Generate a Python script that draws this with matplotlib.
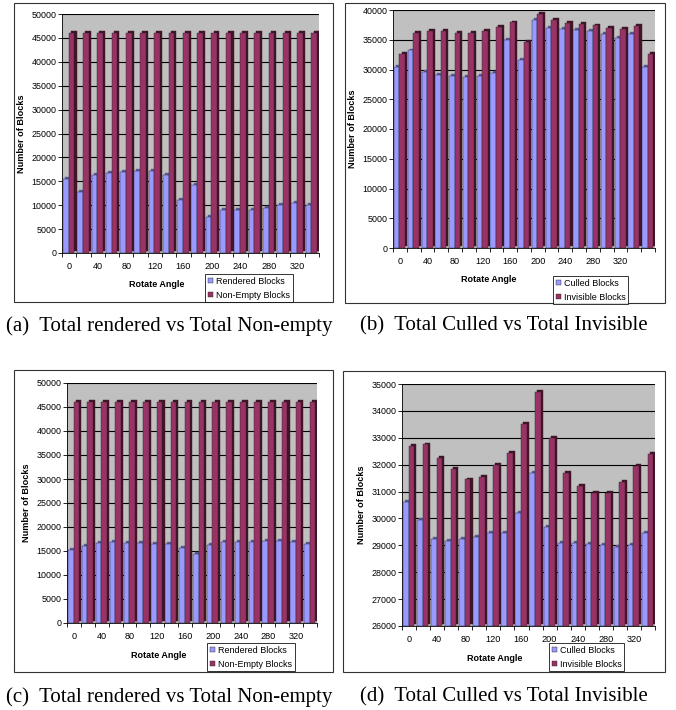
import matplotlib
matplotlib.use("Agg")
import matplotlib.pyplot as plt
import matplotlib.transforms as mtransforms
from matplotlib.patches import Rectangle
import numpy as np

W, H = 676, 710

# data
angles_18 = list(range(0, 360, 20))
angles_19 = list(range(0, 380, 20))

rendered_a = [15500, 12800, 16300, 16700, 17000, 17200, 17100, 16400, 11000,
              14300, 7600, 9000, 9100, 9100, 9400, 10100, 10500, 10100]
nonempty_a = [46000] * 18

culled_b = [30500, 33200, 29600, 29100, 28900, 28700, 28900, 29400, 35000, 31600,
            38300, 37000, 36800, 36700, 36500, 35900, 35300, 35900, 30400]
invisible_b = [32600, 36200, 36500, 36500, 36200, 36100, 36500, 37200, 37900, 34600,
               39300, 38300, 37800, 37700, 37400, 37000, 36800, 37300, 32600]

rendered_c = [15300, 16000, 16600, 16800, 16600, 16700, 16500, 16500, 15700,
              14300, 16300, 16800, 16800, 16900, 17000, 17000, 16900, 16500]
nonempty_c = [46000] * 18

culled_d = [30600, 29950, 29250, 29150, 29250, 29300, 29450, 29450, 30200,
            31700, 29700, 29100, 29100, 29050, 29000, 28950, 29000, 29450]
invisible_d = [32700, 32750, 32250, 31850, 31450, 31550, 32000, 32450, 33500,
               34700, 33000, 31700, 31200, 30950, 30950, 31350, 31950, 32400]

BLUE, BLUE_SIDE = "#9999ff", "#5c5c9e"
MAROON, MAROON_SIDE = "#993366", "#421428"

fig = plt.figure(figsize=(W / 100, H / 100), dpi=100)
plt.rcParams["font.family"] = ["Liberation Sans", "DejaVu Sans"]


def px_rect(x0, y0, x1, y1):
    return [x0 / W, 1 - y1 / H, (x1 - x0) / W, (y1 - y0) / H]


def panel(box, area, angles, s1, s2, names, ylim, ystep, leg_xy, caption, cap_xy):
    # outer frame of the chart
    bx0, by0, bx1, by1 = box
    fig.add_artist(Rectangle((bx0 / W, 1 - by1 / H), (bx1 - bx0) / W, (by1 - by0) / H,
                             transform=fig.transFigure, fill=False,
                             edgecolor="#333333", linewidth=0.8))
    ax = fig.add_axes(px_rect(*area))
    ax.set_facecolor("#c0c0c0")
    n = len(angles)
    x = np.arange(n)
    w = 0.4
    side = ax.transData + mtransforms.ScaledTranslation(1.5 / 72, 1.4 / 72, fig.dpi_scale_trans)
    base = ylim[0]
    for vals, off, col, scol, lab in [(s1, -w / 2 - 0.03, BLUE, BLUE_SIDE, names[0]),
                                      (s2, w / 2 - 0.03, MAROON, MAROON_SIDE, names[1])]:
        h = np.array(vals) - base
        ax.bar(x + off, h, w, bottom=base, color=scol, edgecolor=scol,
               linewidth=0.3, transform=side, zorder=2)
        ax.bar(x + off, h, w, bottom=base, color=col, edgecolor="#222222",
               linewidth=0.3, zorder=3, label=lab)
    ax.set_xlim(-0.5, n - 0.5)
    ax.set_ylim(*ylim)
    ax.set_yticks(np.arange(ylim[0], ylim[1] + 1, ystep))
    ax.yaxis.grid(True, color="black", linewidth=0.8)
    ax.set_axisbelow(True)
    labs = [str(a) if i % 2 == 0 and a <= 320 else "" for i, a in enumerate(angles)]
    ax.set_xticks(x)
    ax.set_xticklabels(labs)
    ax.set_xticks(np.arange(n + 1) - 0.5, minor=True)
    ax.tick_params(axis="x", which="major", length=0, labelsize=6.6, pad=6.5)
    ax.tick_params(axis="x", which="minor", length=3, width=0.6)
    ax.tick_params(axis="y", length=3, width=0.6, labelsize=6.4, pad=1)
    for s in ["top", "right"]:
        ax.spines[s].set_visible(False)
    ax.spines["left"].set_linewidth(0.6)
    ax.spines["bottom"].set_linewidth(0.6)
    ax.set_ylabel("Number of Blocks", fontsize=6.6, fontweight="bold", labelpad=4)
    ax.set_xlabel("Rotate Angle", fontsize=6.5, fontweight="bold", labelpad=5)
    ax.xaxis.set_label_coords(0.367, -0.115)
    leg = fig.legend(*ax.get_legend_handles_labels(), loc="upper left",
                     bbox_to_anchor=(leg_xy[0] / W, 1 - leg_xy[1] / H),
                     fontsize=6.5, frameon=True, fancybox=False, shadow=False,
                     handlelength=0.6, handleheight=0.6, handletextpad=0.3,
                     labelspacing=0.55, borderpad=0.3, borderaxespad=0)
    leg.get_frame().set_edgecolor("black")
    leg.get_frame().set_linewidth(0.7)
    fig.text(cap_xy[0] / W, 1 - cap_xy[1] / H, caption, ha="center", va="center",
             fontsize=15, family=["Liberation Serif", "DejaVu Serif"])
    return ax


panel((14, 3, 333, 302), (62, 14, 319, 253), angles_18, rendered_a, nonempty_a,
      ["Rendered Blocks", "Non-Empty Blocks"], (0, 50000), 5000, (205, 274),
      "(a)  Total rendered vs Total Non-empty", (169, 326))
panel((345, 3, 665, 303), (393, 10, 655, 248), angles_19, culled_b, invisible_b,
      ["Culled Blocks", "Invisible Blocks"], (0, 40000), 5000, (553, 276),
      "(b)  Total Culled vs Total Invisible", (504, 326))
panel((14, 370, 333, 672), (67, 383, 317, 623), angles_18, rendered_c, nonempty_c,
      ["Rendered Blocks", "Non-Empty Blocks"], (0, 50000), 5000, (207, 643),
      "(c)  Total rendered vs Total Non-empty", (169, 697))
panel((343, 371, 665, 672), (402, 384, 655, 626), angles_18, culled_d, invisible_d,
      ["Culled Blocks", "Invisible Blocks"], (26000, 35000), 1000, (549, 643),
      "(d)  Total Culled vs Total Invisible", (504, 697))

fig.savefig("out.png", dpi=100)
